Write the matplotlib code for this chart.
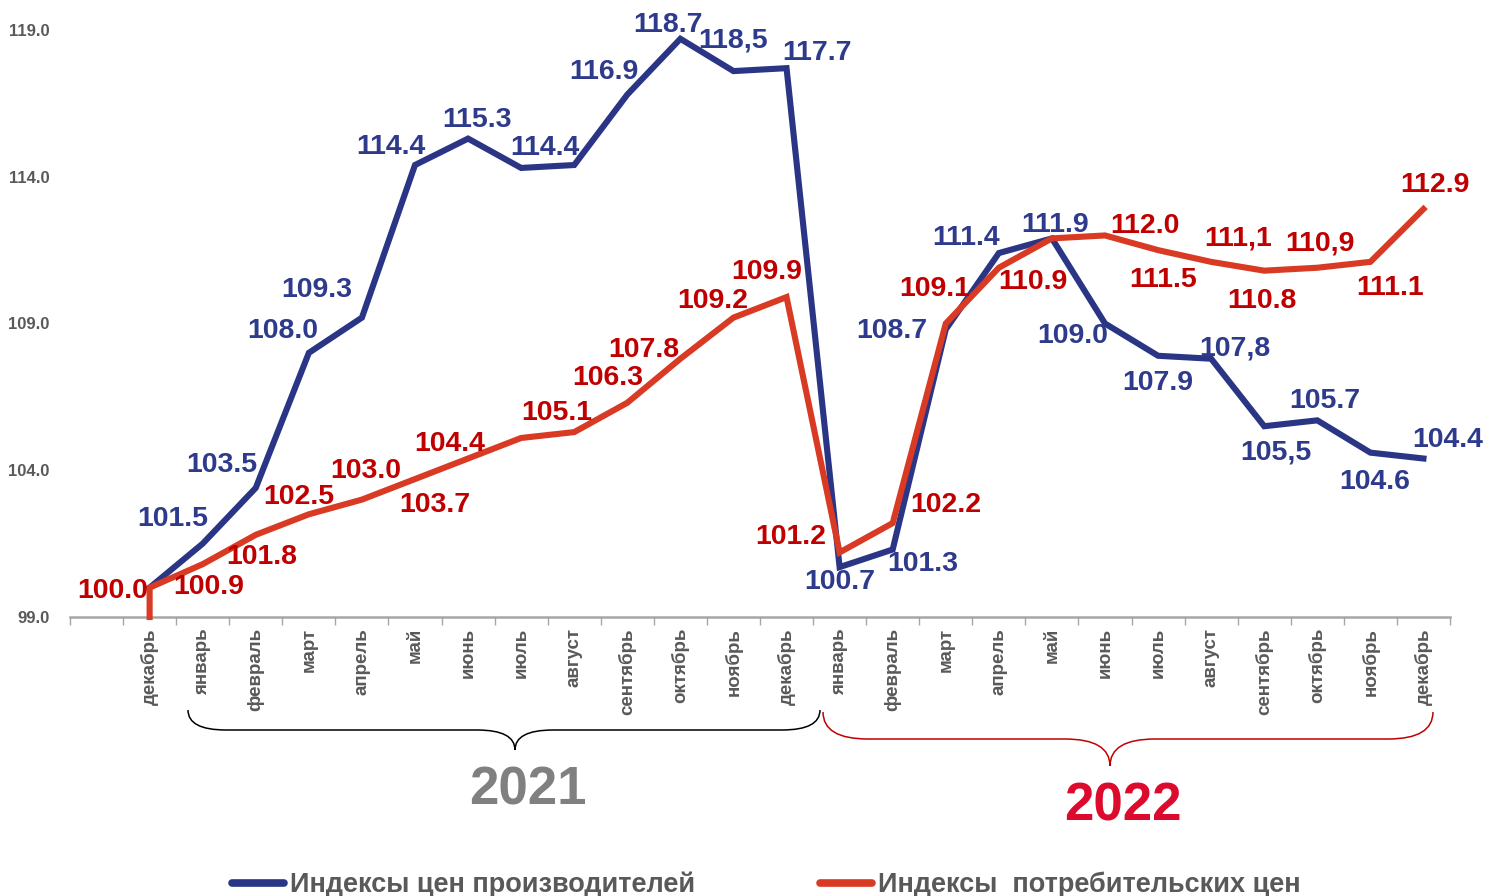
import matplotlib
matplotlib.use("Agg")
import matplotlib.pyplot as plt
from matplotlib.path import Path
from matplotlib.patches import PathPatch
from matplotlib.lines import Line2D
import numpy as np

W, H = 1491, 896

# --- data ---
months = ["", "декабрь",
          "январь", "февраль", "март", "апрель", "май", "июнь",
          "июль", "август", "сентябрь", "октябрь", "ноябрь", "декабрь",
          "январь", "февраль", "март", "апрель", "май", "июнь",
          "июль", "август", "сентябрь", "октябрь", "ноябрь", "декабрь"]

ppi = [100.0, 101.5, 103.4, 108.0, 109.2, 114.4, 115.3, 114.3, 114.4, 116.8,
       118.7, 117.6, 117.7, 100.7, 101.3, 108.8, 111.4, 111.9, 109.0, 107.9,
       107.8, 105.5, 105.7, 104.6, 104.4]
ppi_labels = [None, "101.5", "103.5", "108.0", "109.3", "114.4", "115.3", "114.4", None, "116.9",
              "118.7", "118,5", "117.7", "100.7", "101.3", "108.7", "111.4", "111.9", "109.0", "107.9",
              "107,8", "105,5", "105.7", "104.6", "104.4"]

cpi_start = 99.0
cpi = [100.0, 100.8, 101.8, 102.5, 103.0, 103.7, 104.4, 105.1, 105.3, 106.3,
       107.8, 109.2, 109.9, 101.2, 102.2, 109.0, 110.9, 111.9, 112.0, 111.5,
       111.1, 110.8, 110.9, 111.1, 112.9]
cpi_labels = ["100.0", "100.9", "101.8", "102.5", "103.0", "103.7", "104.4", "105.1", None, "106.3",
              "107.8", "109.2", "109.9", "101.2", "102.2", "109.1", "110.9", None, "112.0", "111.5",
              "111,1", "110.8", "110,9", "111.1", "112.9"]

yticks = [99.0, 104.0, 109.0, 114.0, 119.0]

# label offsets from the point, in pixels (label centre)
ppi_off = [None, (-30, 28), (-34, 26), (-26, 25), (-45, 31), (-24, 21), (9, 22), (24, 23), None, (-23, 26),
           (-12, 17), (0, 34), (30, 18), (0, -12), (30, -12), (-54, 1), (-33, 18), (3, 16), (-32, -10), (0, -24),
           (24, 13), (12, -23), (8, 22), (4, -26), (24, 22)]
cpi_off = [(-37, 0), (6, -20), (6, -19), (-10, 20), (4, 32), (20, -23), (-18, 18), (36, 28), None, (-20, 28),
           (-37, 12), (-21, 20), (-20, 28), (-49, 18), (53, 21), (-11, 37), (34, -11), None, (40, 12), (5, -27),
           (27, 26), (-2, -27), (3, 27), (20, -23), (11, 27)]

BLUE = "#2B3585"
BLUE_TXT = "#2E3A8C"
RED = "#D93A24"
RED_TXT = "#C00000"
GRAY = "#595959"

plt.rcParams["font.family"] = ["Liberation Sans", "DejaVu Sans"]

fig = plt.figure(figsize=(W / 100, H / 100), dpi=100)
ax = fig.add_axes([70 / W, (H - 617) / H, 1380 / W, 587 / H])

x = np.arange(1, len(ppi) + 1)
ax.plot(x, ppi, color=BLUE, lw=4.4, solid_joinstyle="miter", clip_on=False, zorder=3)
ax.plot(np.r_[x[0], x], [cpi_start] + cpi, color=RED, lw=4.4,
        solid_joinstyle="miter", clip_on=False, zorder=4)

for xi, v, lab, off in zip(x, ppi, ppi_labels, ppi_off):
    if lab is None:
        continue
    ax.annotate(lab, (xi, v), xytext=(off[0], off[1] - 10), textcoords="offset pixels",
                ha="center", va="baseline", fontsize=20.5, fontweight="bold",
                color=BLUE_TXT, zorder=5, annotation_clip=False)
for xi, v, lab, off in zip(x, cpi, cpi_labels, cpi_off):
    if lab is None:
        continue
    ax.annotate(lab, (xi, v), xytext=(off[0], off[1] - 10), textcoords="offset pixels",
                ha="center", va="baseline", fontsize=20.5, fontweight="bold",
                color=RED_TXT, zorder=6, annotation_clip=False)

ax.set_xlim(-0.5, len(months) - 0.5)
ax.set_ylim(99, 119)
ax.set_yticks(yticks)
ax.set_yticklabels([f"{t:.1f}" for t in yticks], fontsize=12, fontweight="bold", color=GRAY)
ax.tick_params(axis="y", length=0, pad=15)

ax.set_xticks(np.arange(len(months)))
ax.set_xticklabels(months, rotation=90, fontsize=13.5, fontweight="bold", color=GRAY)
ax.set_xticks(np.arange(len(months) + 1) - 0.5, minor=True)
ax.tick_params(axis="x", which="major", length=0, pad=8)
ax.tick_params(axis="x", which="minor", length=6, width=1, color="#A6A6A6")

for s in ["top", "right", "left"]:
    ax.spines[s].set_visible(False)
ax.spines["bottom"].set_color("#A6A6A6")
ax.spines["bottom"].set_linewidth(1.8)


def px(xp, yp):
    return (xp / W, (H - yp) / H)


def brace(x0, x1, xm, ytop, ymid, ytip, r, color):
    pts = [px(x0, ytop), px(x0, ymid), px(x0 + r, ymid),
           px(xm - r, ymid), px(xm, ymid), px(xm, ytip),
           px(xm, ymid), px(xm + r, ymid),
           px(x1 - r, ymid), px(x1, ymid), px(x1, ytop)]
    codes = [Path.MOVETO, Path.CURVE3, Path.CURVE3,
             Path.LINETO, Path.CURVE3, Path.CURVE3,
             Path.CURVE3, Path.CURVE3,
             Path.LINETO, Path.CURVE3, Path.CURVE3]
    fig.add_artist(PathPatch(Path(pts, codes), fill=False, edgecolor=color,
                             lw=1.1, transform=fig.transFigure))


brace(188, 820, 515, 710, 730, 750, 38, "black")
brace(823, 1433, 1110, 712, 739, 766, 45, "#C00000")

fig.text(*px(528, 790), "2021", ha="center", va="center", fontsize=38,
         fontweight="bold", color="#808080")
fig.text(*px(1123, 806), "2022", ha="center", va="center", fontsize=38,
         fontweight="bold", color="#DC0A2D")

# --- legend ---
narrow = ["Liberation Sans Narrow", "Liberation Sans", "DejaVu Sans"]
for x0, col, txt in [(232, BLUE, "Индексы цен производителей"),
                     (820, RED, "Индексы  потребительских цен")]:
    (lx0, ly), (lx1, _) = px(x0, 883), px(x0 + 52, 883)
    fig.add_artist(Line2D([lx0, lx1], [ly, ly], color=col, lw=5.5,
                          solid_capstyle="round", transform=fig.transFigure))
    fig.text(*px(x0 + 58, 885), txt, ha="left", va="center", fontsize=19.5,
             fontweight="bold", color=GRAY, family=narrow)

fig.savefig("out.png", dpi=100)
